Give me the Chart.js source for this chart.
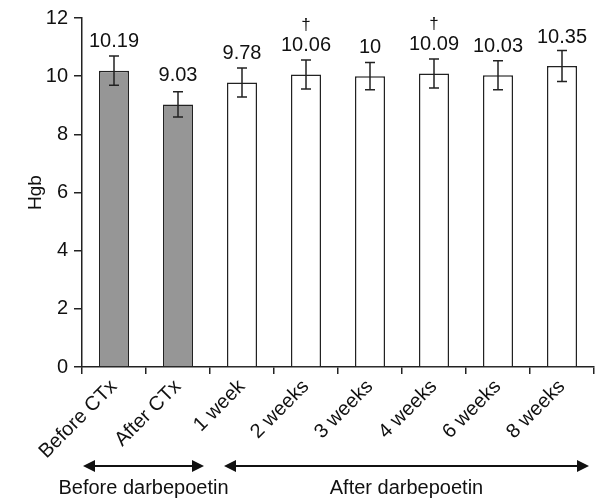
<!DOCTYPE html>
<html>
<head>
<meta charset="utf-8">
<script src="https://cdn.jsdelivr.net/npm/chart.js@4.4.1/dist/chart.umd.min.js"></script>
<style>
  html, body { margin: 0; padding: 0; background: #fff; }
  #wrap { width: 600px; height: 502px; }
</style>
</head>
<body>
<div id="wrap"><canvas id="c"></canvas></div>
<script>
const categories = ['Before CTx', 'After CTx', '1 week', '2 weeks', '3 weeks', '4 weeks', '6 weeks', '8 weeks']
const hgbMeans = [10.19, 9.03, 9.78, 10.06, 10, 10.09, 10.03, 10.35]
const hgbErrors = [0.5, 0.43, 0.5, 0.5, 0.47, 0.5, 0.5, 0.53]
const marks = ['', '', '', '†', '', '†', '', '']
const barColors = ['#969696', '#969696', '#ffffff', '#ffffff', '#ffffff', '#ffffff', '#ffffff', '#ffffff']
const yTicks = [0, 2, 4, 6, 8, 10, 12]
const groups = [
    { label: 'Before darbepoetin', from: 0, to: 1 },
    { label: 'After darbepoetin', from: 2, to: 7 }
]

const FONT = "'Liberation Sans', Arial, sans-serif"

// error bars, value labels, daggers
const errorBarPlugin = {
    id: 'errorBars',
    afterDatasetsDraw(chart) {
        const ctx = chart.ctx
        const y = chart.scales.y
        const meta = chart.getDatasetMeta(0)
        ctx.save()
        ctx.strokeStyle = '#222'
        ctx.lineWidth = 1.5
        meta.data.forEach((bar, i) => {
            const x = bar.x
            const hi = y.getPixelForValue(hgbMeans[i] + hgbErrors[i])
            const lo = y.getPixelForValue(hgbMeans[i] - hgbErrors[i])
            ctx.beginPath()
            ctx.moveTo(x, hi); ctx.lineTo(x, lo)
            ctx.moveTo(x - 5, hi); ctx.lineTo(x + 5, hi)
            ctx.moveTo(x - 5, lo); ctx.lineTo(x + 5, lo)
            ctx.stroke()

            const ly = y.getPixelForValue(hgbMeans[i]) - 29
            ctx.fillStyle = '#111'
            ctx.textAlign = 'center'
            ctx.textBaseline = 'middle'
            ctx.font = '20px ' + FONT
            ctx.fillText(String(hgbMeans[i]), x, ly)
            if (marks[i]) {
                ctx.font = '17px ' + FONT
                ctx.fillText(marks[i], x, ly - 20)
            }
        })
        ctx.restore()
    }
}

// group arrows under the x axis
const groupPlugin = {
    id: 'groups',
    afterDraw(chart) {
        const ctx = chart.ctx
        const xs = chart.scales.x
        const half = (xs.getPixelForValue(1) - xs.getPixelForValue(0)) / 2
        const ay = chart.chartArea.bottom + 99
        ctx.save()
        ctx.fillStyle = '#111'
        ctx.strokeStyle = '#111'
        ctx.lineWidth = 2
        groups.forEach((g, gi) => {
            let x1 = xs.getPixelForValue(g.from) - half + (gi === 0 ? 1 : 14)
            let x2 = xs.getPixelForValue(g.to) + half - (gi === 0 ? 6 : 5)
            ctx.beginPath()
            ctx.moveTo(x1 + 10, ay); ctx.lineTo(x2 - 10, ay)
            ctx.stroke()
            ctx.beginPath()
            ctx.moveTo(x1, ay); ctx.lineTo(x1 + 12, ay - 6); ctx.lineTo(x1 + 12, ay + 6); ctx.closePath()
            ctx.fill()
            ctx.beginPath()
            ctx.moveTo(x2, ay); ctx.lineTo(x2 - 12, ay - 6); ctx.lineTo(x2 - 12, ay + 6); ctx.closePath()
            ctx.fill()
            ctx.font = '20px ' + FONT
            ctx.textAlign = 'center'
            ctx.textBaseline = 'middle'
            ctx.fillText(g.label, (x1 + x2) / 2, ay + 22)
        })
        ctx.restore()
    }
}

new Chart(document.getElementById('c'), {
    type: 'bar',
    data: {
        labels: categories,
        datasets: [{
            data: hgbMeans,
            backgroundColor: barColors,
            borderColor: '#222',
            borderWidth: 1.5,
            categoryPercentage: 1,
            barPercentage: 0.47
        }]
    },
    options: {
        responsive: true,
        maintainAspectRatio: false,
        animation: false,
        layout: { padding: { left: 24, right: 6, top: 15, bottom: 0 } },
        plugins: { legend: { display: false }, tooltip: { enabled: false } },
        scales: {
            x: {
                afterFit(s) { s.height = 135 },
                border: { display: true, color: '#222', width: 1.5 },
                grid: { offset: true, drawOnChartArea: false, drawTicks: true, tickLength: 7, color: '#222', lineWidth: 1.5 },
                ticks: {
                    color: '#111',
                    font: { family: FONT, size: 20 },
                    minRotation: 45,
                    maxRotation: 45,
                    padding: 1
                }
            },
            y: {
                min: 0,
                max: 12,
                afterFit(s) { s.width = 58 },
                afterBuildTicks(s) { s.ticks = yTicks.map(v => ({ value: v })) },
                border: { display: true, color: '#222', width: 1.5 },
                grid: { drawOnChartArea: false, drawTicks: true, tickLength: 8, color: '#222', lineWidth: 1.5 },
                ticks: { color: '#111', font: { family: FONT, size: 20 }, padding: 6 },
                title: { display: true, text: 'Hgb', color: '#111', font: { family: FONT, size: 19 }, padding: 0 }
            }
        }
    },
    plugins: [errorBarPlugin, groupPlugin]
})
</script>
</body>
</html>
